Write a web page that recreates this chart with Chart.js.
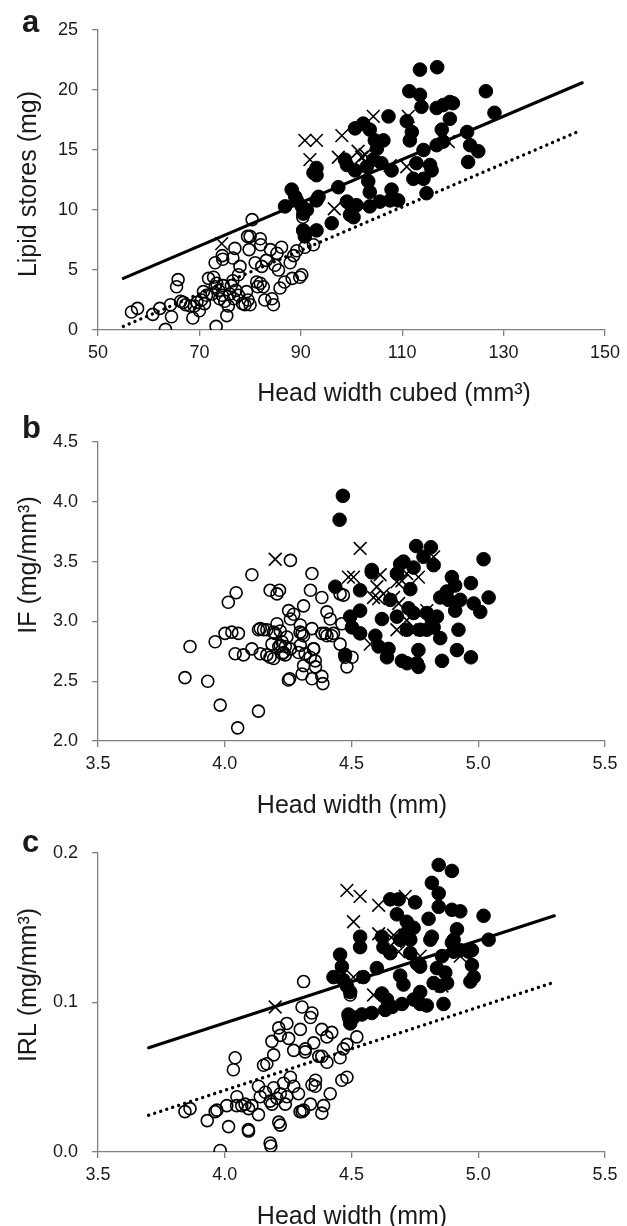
<!DOCTYPE html>
<html>
<head>
<meta charset="utf-8">
<script src="https://cdn.jsdelivr.net/npm/chart.js@4.4.1/dist/chart.umd.min.js"></script>
<style>
  body { margin: 0; background: #fff; width: 627px; height: 1226px; overflow: hidden; position: relative; }
  canvas { position: absolute; left: 0; }
</style>
</head>
<body>
<canvas id="panelA" width="627" height="410" style="top:0"></canvas>
<canvas id="panelB" width="627" height="410" style="top:410px"></canvas>
<canvas id="panelC" width="627" height="410" style="top:820px"></canvas>
<script>
// ---- panel a: lipid stores vs head width cubed ----
const lipidOpen = [
  [56.6,1.5],[57.8,1.8],[60.8,1.3],[62.2,1.8],[63.3,0.05],[64.5,1.1],[64.3,2.1],[65.8,4.2],[65.5,3.6],
  [66.3,2.4],[67.3,2.1],[68.2,2.0],[68.7,1.0],[69.5,2.3],[70.8,3.2],[70.4,2.5],[71.4,2.9],[71.8,4.3],
  [73.1,5.6],[72.8,4.4],[73.1,3.6],[73.4,3.9],[73.3,0.3],[74.0,2.6],[74.5,2.9],[74.7,3.7],[74.6,5.9],
  [74.5,6.2],[75.4,1.2],[75.7,2.0],[76.0,3.0],[76.3,3.7],[76.6,4.1],[76.6,6.0],[77.0,6.8],[77.7,4.6],
  [77.7,2.9],[78.0,5.3],[79.3,3.2],[79.6,2.5],[79.0,2.1],[80.0,2.1],[79.5,7.8],[80.4,9.2],[79.8,6.7],
  [81.0,5.6],[81.3,4.0],[82.0,3.9],[82.0,7.6],[82.1,7.1],[82.3,5.3],[82.6,3.6],[82.9,2.5],[84.6,2.1],
  [84.3,2.6],[84.0,6.7],[85.3,6.4],[86.2,6.9],[84.9,5.4],[85.6,5.0],[85.9,3.5],[87.9,5.6],[88.3,4.3],
  [88.6,6.2],[89.2,6.6],[90.2,4.6],[90.4,9.4],[92.5,7.1],[90.4,8.3],[90.8,6.9],[80.0,7.8],[89.8,4.4],
  [72.5,3.0],[73.8,3.3],[75.0,2.4],[76.8,2.6],[78.5,2.2],[81.5,3.6],[70.0,1.6],[66.8,2.3],[69.0,2.0],
  [77.2,3.3],[71.0,2.2],[83.2,5.8],[86.8,4.0]
];
const lipidFilled = [
  [113.5,21.7],[116.9,21.9],[126.5,19.9],[111.4,19.9],[113.5,19.6],[113.8,18.6],[116.8,18.5],[118.1,18.75],
  [119.4,19.0],[120.0,18.9],[119.4,17.6],[117.8,16.7],[128.2,18.1],[107.3,17.8],[110.9,17.4],[111.9,16.5],
  [111.5,15.8],[100.7,16.8],[102.3,17.2],[103.6,16.7],[104.6,15.8],[106.3,15.8],[105.0,15.1],[114.2,15.0],
  [116.8,15.4],[118.1,15.7],[122.8,16.5],[123.4,15.4],[125.0,14.9],[123.0,14.0],[93.1,13.5],[93.1,12.9],
  [98.7,14.2],[99.1,13.75],[100.7,13.3],[103.0,13.6],[104.3,14.2],[105.9,13.9],[107.9,13.3],[112.8,13.9],
  [115.5,13.75],[115.8,13.3],[112.2,12.6],[114.2,12.6],[114.8,11.4],[103.3,12.4],[103.6,11.5],[97.4,11.9],
  [107.9,11.7],[109.2,10.8],[107.6,10.8],[99.1,10.7],[100.0,10.3],[101.0,10.4],[99.7,9.6],[103.6,10.3],
  [105.6,10.7],[93.5,11.1],[88.2,11.7],[88.9,11.1],[86.9,10.3],[90.2,10.3],[90.5,9.7],[96.1,8.9],
  [93.1,8.3],[90.8,7.8],[90.5,8.3],[89.2,10.8],[91.2,10.0],[93.1,10.8],[92.5,13.1],[100.4,9.4]
];
const lipidCross = [
  [74.4,7.2],[90.8,15.8],[93.1,15.8],[91.8,14.2],[98.1,16.2],[97.4,14.4],[104.3,17.8],[101.3,14.9],
  [102.0,14.4],[102.7,14.6],[103.0,13.9],[107.6,13.7],[110.9,13.6],[96.6,10.1],[111.2,17.8],[119.1,15.7]
];
const lipidSolid = [[55,4.3],[145.5,20.6]];
const lipidDotted = [[55,0.3],[144.5,16.5]];

// ---- panel b: IF vs head width ----
const ifOpen = [
  [3.843,2.53],[3.863,2.79],[3.933,2.50],[3.982,2.30],[3.962,2.83],[4.001,2.90],[4.028,2.91],[4.054,2.90],
  [4.014,3.16],[4.045,3.24],[4.051,2.11],[4.041,2.73],[4.074,2.72],[4.107,2.77],[4.107,3.39],[4.133,2.25],
  [4.133,2.93],[4.153,2.93],[4.140,2.73],[4.166,2.72],[4.179,2.70],[4.193,2.69],[4.179,3.26],[4.206,3.23],
  [4.216,3.26],[4.199,2.90],[4.206,2.98],[4.219,2.92],[4.226,2.83],[4.239,2.79],[4.232,2.74],[4.245,2.87],
  [4.259,2.77],[4.213,2.79],[4.226,2.73],[4.259,3.51],[4.252,3.09],[4.272,3.06],[4.259,3.02],[4.256,2.52],
  [4.298,2.97],[4.305,2.90],[4.311,3.13],[4.338,3.26],[4.344,3.40],[4.344,2.94],[4.351,2.77],[4.298,2.80],
  [4.305,2.56],[4.344,2.52],[4.358,2.62],[4.383,3.20],[4.403,3.08],[4.416,3.02],[4.192,2.91],[4.166,2.93],
  [4.140,2.94],[4.297,2.91],[4.311,2.88],[4.383,2.90],[4.403,2.88],[4.429,2.90],[4.455,2.81],[4.475,2.70],
  [4.502,2.70],[4.482,2.62],[4.186,2.81],[4.219,2.80],[4.239,2.72],[4.291,2.74],[4.317,2.73],[4.350,2.77],
  [4.357,2.67],[4.337,2.70],[4.311,2.63],[4.387,2.48],[4.383,2.54],[4.251,2.51],[4.455,3.23],[4.468,3.22],
  [4.462,2.98],[4.396,2.90],[4.422,2.88]
];
const ifFilled = [
  [4.466,4.05],[4.453,3.85],[4.755,3.63],[4.813,3.62],[4.784,3.54],[4.824,3.47],[5.021,3.52],[4.580,3.41],
  [4.692,3.48],[4.705,3.50],[4.745,3.45],[4.732,3.27],[4.679,3.40],[4.436,3.29],[4.534,3.26],[4.896,3.37],
  [4.971,3.32],[4.909,3.30],[4.876,3.25],[4.850,3.20],[4.883,3.18],[4.929,3.18],[4.909,3.09],[4.982,3.15],
  [5.008,3.08],[5.041,3.20],[4.653,3.18],[4.725,3.11],[4.745,3.07],[4.679,3.04],[4.719,2.93],[4.620,3.02],
  [4.534,3.09],[4.495,3.04],[4.797,3.07],[4.817,3.01],[4.837,3.04],[4.824,2.95],[4.797,2.93],[4.850,2.86],
  [4.771,2.93],[4.922,2.93],[4.502,2.95],[4.534,2.90],[4.594,2.88],[4.607,2.79],[4.646,2.77],[4.640,2.70],
  [4.699,2.67],[4.719,2.65],[4.758,2.65],[4.764,2.62],[4.764,2.76],[4.857,2.67],[4.916,2.76],[4.971,2.70],
  [4.475,2.72],[4.580,3.43]
];
const ifCross = [
  [4.534,3.61],[4.488,3.37],[4.508,3.37],[4.613,3.39],[4.600,3.29],[4.587,3.20],[4.607,3.19],[4.626,3.23],
  [4.679,3.33],[4.699,3.34],[4.718,3.40],[4.764,3.37],[4.666,3.20],[4.686,3.15],[4.574,2.81],[4.679,2.93],
  [4.732,2.93],[4.797,3.09],[4.718,3.01],[4.824,3.54],[4.199,3.52]
];

// ---- panel c: IRL vs head width ----
const irlOpen = [
  [3.982,0.001],[4.182,0.004],[3.843,0.027],[3.863,0.029],[3.931,0.021],[3.962,0.027],[4.015,0.017],[4.008,0.031],
  [4.047,0.031],[4.067,0.031],[4.094,0.029],[4.041,0.063],[4.034,0.055],[4.094,0.014],[4.107,0.031],[4.133,0.025],
  [4.133,0.044],[4.153,0.058],[4.166,0.059],[4.186,0.074],[4.193,0.065],[4.213,0.083],[4.219,0.078],[4.245,0.086],
  [4.252,0.076],[4.272,0.068],[4.298,0.082],[4.305,0.097],[4.338,0.090],[4.344,0.093],[4.311,0.114],[4.160,0.040],
  [4.179,0.034],[4.193,0.043],[4.219,0.039],[4.232,0.046],[4.245,0.037],[4.259,0.050],[4.272,0.044],[4.291,0.039],
  [4.305,0.027],[4.338,0.032],[4.344,0.045],[4.351,0.073],[4.318,0.069],[4.358,0.048],[4.371,0.064],[4.213,0.020],
  [4.219,0.018],[4.186,0.032],[4.206,0.036],[4.239,0.032],[4.383,0.082],[4.422,0.080],[4.403,0.077],[4.521,0.077],
  [4.317,0.067],[4.383,0.064],[4.403,0.060],[4.455,0.063],[4.468,0.069],[4.482,0.072],[4.462,0.048],[4.482,0.050],
  [4.416,0.039],[4.390,0.031],[4.383,0.026],[4.297,0.027],[4.080,0.032],[4.048,0.037],[3.969,0.028],[4.093,0.015],
  [4.179,0.006],[4.495,0.105],[4.488,0.090],[4.311,0.028],[4.357,0.044],[4.140,0.037]
];
const irlFilled = [
  [4.844,0.192],[4.896,0.188],[4.817,0.180],[4.844,0.173],[4.844,0.164],[4.653,0.169],[4.686,0.169],[4.751,0.167],
  [5.021,0.158],[4.679,0.159],[4.718,0.154],[4.745,0.150],[4.712,0.146],[4.692,0.142],[4.732,0.142],[4.804,0.156],
  [4.817,0.144],[4.811,0.142],[4.896,0.162],[4.929,0.161],[4.916,0.149],[4.903,0.142],[4.896,0.140],[4.903,0.134],
  [4.929,0.135],[4.962,0.134],[4.975,0.135],[5.041,0.142],[4.534,0.144],[4.534,0.137],[4.620,0.144],[4.626,0.137],
  [4.653,0.133],[4.455,0.132],[4.462,0.124],[4.429,0.117],[4.468,0.115],[4.482,0.111],[4.495,0.107],[4.547,0.117],
  [4.600,0.123],[4.692,0.118],[4.705,0.112],[4.732,0.133],[4.758,0.126],[4.771,0.124],[4.837,0.123],[4.857,0.131],
  [4.870,0.120],[4.824,0.113],[4.850,0.111],[4.877,0.113],[4.975,0.125],[4.982,0.117],[4.969,0.114],[4.620,0.106],
  [4.640,0.102],[4.660,0.097],[4.699,0.099],[4.745,0.102],[4.771,0.107],[4.771,0.099],[4.797,0.098],[4.863,0.099],
  [4.580,0.093],[4.541,0.092],[4.488,0.092],[4.508,0.090],[4.495,0.086],[4.633,0.095]
];
const irlCross = [
  [4.482,0.175],[4.534,0.171],[4.607,0.165],[4.712,0.171],[4.508,0.154],[4.607,0.146],[4.666,0.145],[4.672,0.141],
  [4.686,0.134],[4.587,0.105],[4.771,0.131],[4.857,0.111],[4.929,0.131],[4.199,0.097],[4.508,0.117]
];
const irlSolid = [[3.70,0.0697],[5.30,0.158]];
const irlDotted = [[3.70,0.0246],[5.29,0.113]];

const FONT = '"Liberation Sans", Arial, sans-serif';
const TEXT = '#1a1a1a';
const AXIS = '#808080';

const pts = arr => arr.map(([x, y]) => ({ x, y }));

function markers(open, filled, cross) {
  return [
    { data: pts(filled), pointStyle: 'circle', pointRadius: 6.8, backgroundColor: '#000', borderColor: '#000', borderWidth: 1, order: 1 },
    { data: pts(cross), pointStyle: 'crossRot', pointRadius: 9, borderColor: '#000', borderWidth: 1.6, order: 2 },
    { data: pts(open), pointStyle: 'circle', pointRadius: 6, backgroundColor: 'rgba(0,0,0,0)', borderColor: '#000', borderWidth: 1.6, order: 3 }
  ];
}

function fitLine(arr, dotted) {
  return {
    type: 'line', data: pts(arr), showLine: true, pointRadius: 0, fill: false,
    borderColor: '#000', borderWidth: dotted ? 3.4 : 3.2,
    borderDash: dotted ? [0.01, 6.3] : [], borderCapStyle: 'round', order: 0
  };
}

// panel letter and axis titles, placed as in the figure
const panelText = {
  id: 'panelText',
  afterDraw(chart, args, o) {
    const ctx = chart.ctx;
    ctx.save();
    ctx.fillStyle = TEXT;
    ctx.textBaseline = 'alphabetic';
    ctx.font = 'bold 31px ' + FONT;
    ctx.textAlign = 'left';
    ctx.fillText(o.letter, 22, o.letterY);
    ctx.font = '25px ' + FONT;
    ctx.textAlign = 'center';
    ctx.fillText(o.xTitle, o.xTitleX, o.xTitleY);
    ctx.translate(36, o.yTitleY);
    ctx.rotate(-Math.PI / 2);
    ctx.fillText(o.yTitle, 0, 0);
    ctx.restore();
  }
};

function axis(min, max, step, decimals, pad, extra) {
  return Object.assign({
    type: 'linear', min, max,
    ticks: {
      stepSize: step, padding: pad, color: TEXT, font: { family: FONT, size: 18 },
      callback: v => Number(v).toFixed(decimals)
    },
    grid: { drawOnChartArea: false, drawTicks: true, tickLength: 6, color: AXIS, lineWidth: 1.3 },
    border: { display: true, color: AXIS, width: 1.3 }
  }, extra);
}

function makePanel(id, p) {
  const H = 410;
  new Chart(document.getElementById(id), {
    type: 'scatter',
    data: { datasets: p.datasets },
    options: {
      responsive: false, animation: false, events: [],
      layout: { padding: { top: p.top, right: 22, left: 0, bottom: 0 } },
      plugins: { legend: { display: false }, tooltip: { enabled: false }, panelText: p.text },
      scales: {
        x: axis(p.x[0], p.x[1], p.x[2], p.x[3], 6, {
          afterFit: s => { s.height = H - p.bottom; }
        }),
        y: axis(p.y[0], p.y[1], p.y[2], p.y[3], 14, {
          afterFit: s => { s.width = 98; }
        })
      }
    },
    plugins: [panelText]
  });
}

makePanel('panelA', {
  top: 30, bottom: 330,
  x: [50, 150, 20, 0], y: [0, 25, 5, 0],
  datasets: [fitLine(lipidSolid, false), fitLine(lipidDotted, true), ...markers(lipidOpen, lipidFilled, lipidCross)],
  text: { letter: 'a', letterY: 32, xTitle: 'Head width cubed (mm³)', xTitleX: 394, xTitleY: 401, yTitle: 'Lipid stores (mg)', yTitleY: 184 }
});

makePanel('panelB', {
  top: 32, bottom: 331,
  x: [3.5, 5.5, 0.5, 1], y: [2.0, 4.5, 0.5, 1],
  datasets: markers(ifOpen, ifFilled, ifCross),
  text: { letter: 'b', letterY: 28, xTitle: 'Head width (mm)', xTitleX: 352, xTitleY: 403, yTitle: 'IF (mg/mm³)', yTitleY: 155 }
});

makePanel('panelC', {
  top: 33, bottom: 332,
  x: [3.5, 5.5, 0.5, 1], y: [0, 0.2, 0.1, 1],
  datasets: [fitLine(irlSolid, false), fitLine(irlDotted, true), ...markers(irlOpen, irlFilled, irlCross)],
  text: { letter: 'c', letterY: 32, xTitle: 'Head width (mm)', xTitleX: 352, xTitleY: 404, yTitle: 'IRL (mg/mm³)', yTitleY: 165 }
});
</script>
</body>
</html>
